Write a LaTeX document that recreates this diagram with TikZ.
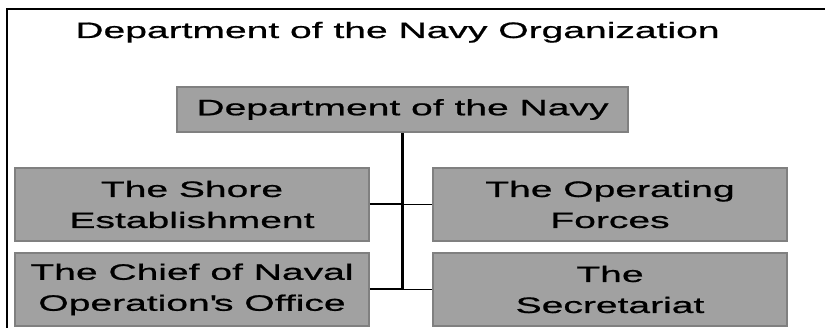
\documentclass[tikz,border=0pt]{standalone}
\usepackage{fontspec}
\newfontfamily\wide[FakeStretch=1.75,FakeBold=0.8]{Liberation Sans}
\begin{document}
\begin{tikzpicture}[x=1pt,y=-1pt]
\tikzset{
  box/.style={draw=black!50, line width=1.6pt, fill=black!37, text=black,
    align=center, inner sep=0pt, font=\wide\fontsize{22.3}{31}\selectfont},
  thickline/.style={line width=2pt},
  thinline/.style={line width=1.1pt},
}
\useasboundingbox (0,0) rectangle (825,328);
% frame
\draw[line width=2pt] (7,328) -- (7,9) -- (826,9);
% title
\node[anchor=base, inner sep=0pt, font=\wide\fontsize{22.3}{31}\selectfont] (title) at (397.5,38) {Department of the Navy Organization};
% boxes
\node[box, minimum width=451pt, minimum height=45pt] (top) at (402.5,109.5) {Department of the Navy};
\node[box, minimum width=354pt, minimum height=73pt] (shore) at (192,204.5) {The Shore\\Establishment};
\node[box, minimum width=354pt, minimum height=73pt] (chief) at (192,289.5) {The Chief of Naval\\Operation\textquotesingle s Office};
\node[box, minimum width=354pt, minimum height=73pt] (oper) at (610,204.5) {The Operating\\Forces};
\node[box, minimum width=354pt, minimum height=73pt] (secr) at (610,289.5) {The\\Secretariat};
% connectors
\coordinate (j1) at (top.south |- shore.east);
\coordinate (j2) at (top.south |- chief.east);
\draw[line width=2.6pt] (top.south) -- (j2);
\draw[thickline] (shore.east) -- (j1);
\draw[thinline] (j1) -- (oper.west);
\draw[thickline] (chief.east) -- (j2);
\draw[thinline] (j2) -- (secr.west);
\end{tikzpicture}
\end{document}
